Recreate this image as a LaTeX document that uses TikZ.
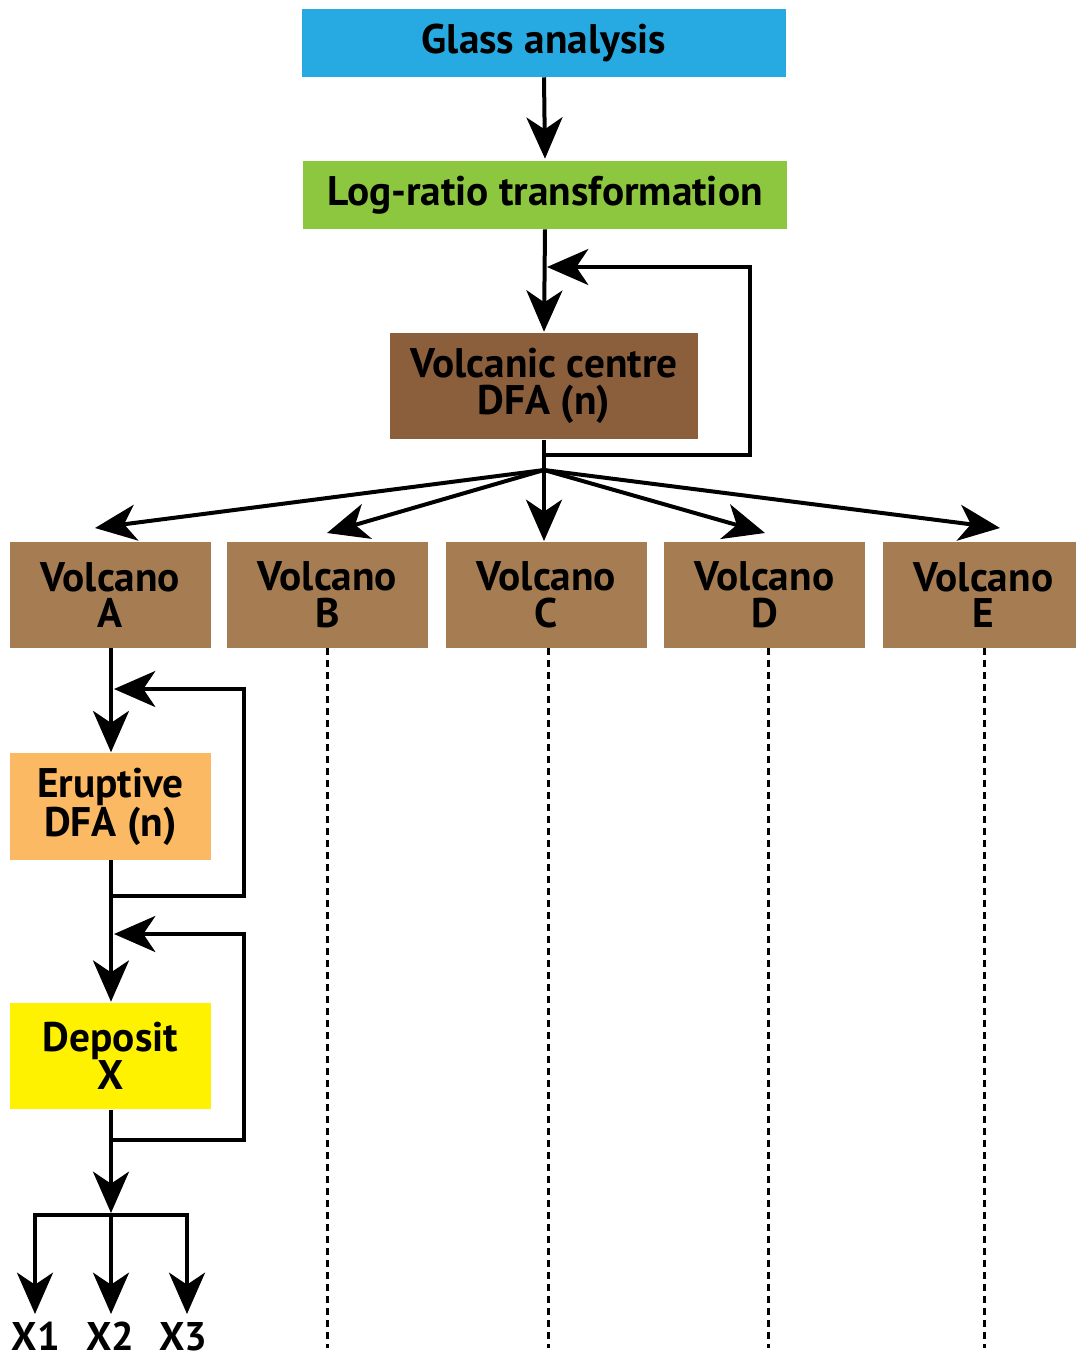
\documentclass[tikz,border=0pt]{standalone}
\usepackage{fontspec}
\setmainfont{PT Sans}
\usetikzlibrary{arrows.meta}
\definecolor{cblue}{HTML}{27AAE1}
\definecolor{cgreen}{HTML}{8DC63F}
\definecolor{cdbrown}{HTML}{8B5E3C}
\definecolor{clbrown}{HTML}{A67C52}
\definecolor{corange}{HTML}{FBB963}
\definecolor{cyellow}{HTML}{FFF200}
\begin{document}
\begin{tikzpicture}[x=0.75pt,y=-0.75pt,
  box/.style={inner sep=0pt, align=center, font=\fontsize{31}{27.5}\selectfont\bfseries, text=black},
  wide/.style={box, minimum width=363pt, minimum height=51pt},
  vbox/.style={box, minimum width=150.75pt, minimum height=79.5pt, fill=clbrown},
  lbox/.style={box, minimum width=150.75pt, minimum height=80pt},
  conn/.style={line width=3pt},
  arr/.style={conn, -{Stealth[length=31pt,width=27pt,inset=9pt]}},
  dots/.style={line width=2.25pt, dash pattern=on 5.25pt off 3.75pt},
  lbl/.style={font=\fontsize{30}{26}\selectfont\bfseries, inner sep=0pt, anchor=base}]
\useasboundingbox (0,0) rectangle (1075,1356);
\fill[white] (0,0) rectangle (1075,1356);
% nodes
\node[wide, fill=cblue] (glass) at (544,43) {Glass analysis};
\node[wide, fill=cgreen] (log) at (545,195) {Log-ratio transformation};
\node[box, fill=cdbrown, minimum width=231pt, minimum height=80pt] (vcc) at (544,386) {Volcanic centre\\DFA (n)};
\node[vbox] (va) at (110.5,595) {Volcano\\A};
\node[vbox] (vb) at (327.5,595) {Volcano\\B};
\node[vbox] (vc) at (546.5,595) {Volcano\\C};
\node[vbox] (vd) at (764.5,595) {Volcano\\D};
\node[vbox] (ve) at (983.5,595) {Volcano\\E};
\node[lbox, fill=corange] (erup) at (110.5,806.5) {Eruptive\\DFA (n)};
\node[lbox, fill=cyellow] (dep) at (110.5,1056) {Deposit\\X};
\node[lbl] (x1) at (36,1350) {X1};
\node[lbl] (x2) at (110,1350) {X2};
\node[lbl] (x3) at (183,1350) {X3};
% coordinates
\coordinate (br) at (544,470);
\coordinate (l1a) at (544,455);
\coordinate (l1b) at (750,455);
\coordinate (l1c) at (750,267);
\coordinate (l1d) at (547,267);
\coordinate (ta) at (95,528);
\coordinate (tb) at (327,533);
\coordinate (tc) at (544,541);
\coordinate (td) at (765,533);
\coordinate (te) at (1000,528);
\coordinate (l2a) at (111,896);
\coordinate (l2b) at (244,896);
\coordinate (l2c) at (244,689);
\coordinate (l2d) at (114,689);
\coordinate (l3a) at (111,1140);
\coordinate (l3b) at (244,1140);
\coordinate (l3c) at (244,934);
\coordinate (l3d) at (114,934);
\coordinate (sp) at (111,1213);
\coordinate (h1) at (35,1215);
\coordinate (h3) at (187,1215);
\coordinate (t1) at (35,1314);
\coordinate (t2) at (111,1314);
\coordinate (t3) at (187,1314);
\coordinate (eb) at (327.5,1348);
\coordinate (ec) at (548,1348);
\coordinate (ed) at (768,1348);
\coordinate (ee) at (984,1348);
% connectors
\draw[arr] (glass.south) -- ([yshift=1.5pt]log.north);
\draw[arr] (log.south) -- ([yshift=0.5pt]vcc.north);
\draw[conn] (vcc.south) -- (br);
\draw[arr] (l1a) -- (l1b) -- (l1c) -- (l1d);
\draw[arr] (br) -- (ta);
\draw[arr] (br) -- (tb);
\draw[arr] (br) -- (tc);
\draw[arr] (br) -- (td);
\draw[arr] (br) -- (te);
\draw[arr] (va.south -| l2a) -- ([yshift=0.5pt]erup.north -| l2a);
\draw[arr] (l2a) -- (l2b) -- (l2c) -- (l2d);
\draw[arr] (erup.south -| l2a) -- ([yshift=0.5pt]dep.north -| l2a);
\draw[arr] (l3a) -- (l3b) -- (l3c) -- (l3d);
\draw[arr] (dep.south -| l3a) -- (sp);
\draw[conn, line cap=rect] (h1) -- (h3);
\draw[arr] (h1) -- (t1);
\draw[arr] (sp |- h1) -- (t2);
\draw[arr] (h3) -- (t3);
\draw[dots] (vb.south) -- (eb);
\draw[dots] (vc.south -| ec) -- (ec);
\draw[dots] (vd.south -| ed) -- (ed);
\draw[dots] (ve.south -| ee) -- (ee);
\end{tikzpicture}
\end{document}
